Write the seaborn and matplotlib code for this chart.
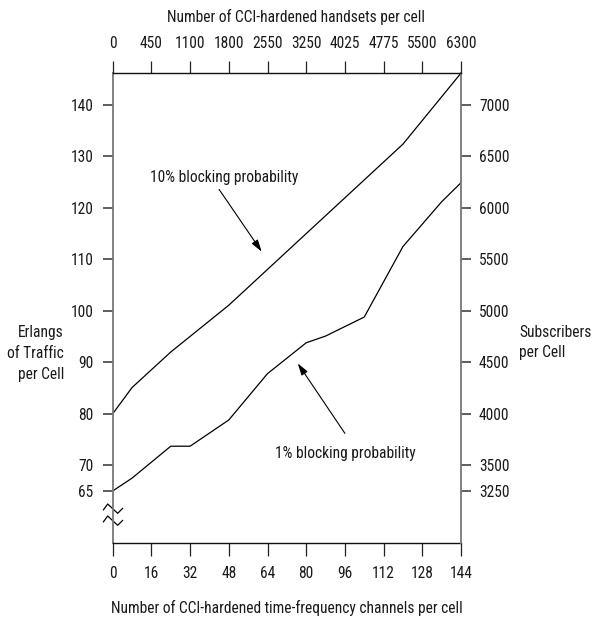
import matplotlib
matplotlib.use("Agg")
import matplotlib.pyplot as plt
from matplotlib import font_manager
from matplotlib.font_manager import FontProperties
from matplotlib.textpath import TextPath
import seaborn as sns
import pandas as pd

# ---- data ----
channels_10 = [0, 8, 24, 48, 120, 144]
erlang_10 = [80, 85.1, 92.0, 101.1, 132.4, 146.2]
channels_1 = [0, 8, 24, 32, 48, 64, 80, 88, 104, 120, 136, 144]
erlang_1 = [65, 67.5, 73.7, 73.7, 78.8, 87.8, 93.8, 95.1, 98.8, 112.5, 121.2, 124.9]

bottom_ticks = [0, 16, 32, 48, 64, 80, 96, 112, 128, 144]
top_labels = ["0", "450", "1100", "1800", "2550", "3250", "4025", "4775", "5500", "6300"]
left_ticks = [65, 70, 80, 90, 100, 110, 120, 130, 140]
right_ticks = [3250, 3500, 4000, 4500, 5000, 5500, 6000, 6500, 7000]
subs_per_erlang = 50

sns.set_theme(style="white")

# ---- pick a narrow sans font if one is installed (reference uses a narrow Helvetica) ----
SAMPLE = "Number of CCI-hardened time-frequency channels per cell"
TARGET_W_PX = 350.0
TARGET_RATIO = 350.0 / 11.7   # width of sample / digit height, in the reference
ALLOWED = {"liberation sans", "liberation sans narrow", "arial", "arial narrow", "dejavu sans",
           "dejavu sans condensed", "roboto", "roboto condensed", "open sans", "open sans condensed",
           "noto sans", "noto sans condensed", "lato", "inter"}


def _wnum(w):
    if isinstance(w, (int, float)):
        return w
    return font_manager.weight_dict.get(str(w).lower(), 400)


cands = {}
for f in font_manager.fontManager.ttflist:
    if f.name.lower() not in ALLOWED:
        continue
    if f.style != "normal" or not (350 <= _wnum(f.weight) <= 450):
        continue
    key = (f.name, f.stretch)
    if key not in cands:
        cands[key] = f.fname

best = None
for (name, stretch), fname in list(cands.items())[:30]:
    try:
        fp = FontProperties(fname=fname)
        w = TextPath((0, 0), SAMPLE, size=100, prop=fp).get_extents().width
        h = TextPath((0, 0), "0148", size=100, prop=fp).get_extents().height
    except Exception:
        continue
    if h <= 0 or w <= 0:
        continue
    score = abs(w / h - TARGET_RATIO)
    if "liberation" in name.lower():
        score *= 0.85
    if best is None or score < best[0]:
        best = (score, name, stretch, w)

if best is None:
    fam, stretch, FS = "Liberation Sans", "normal", 9.8
else:
    _, fam, stretch, w100 = best
    FS = TARGET_W_PX * 72.0 / w100

plt.rcParams["font.family"] = [fam, "DejaVu Sans"]
plt.rcParams["font.stretch"] = stretch

df = pd.concat([
    pd.DataFrame({"ch": channels_10, "erl": erlang_10, "curve": "10%"}),
    pd.DataFrame({"ch": channels_1, "erl": erlang_1, "curve": "1%"}),
])

fig = plt.figure(figsize=(5.97, 6.23), dpi=100)
W, H = 597, 623
x0, x1, ytop, ybot = 112.7, 461.0, 73.0, 542.7
ax = fig.add_axes([x0 / W, (H - ybot) / H, (x1 - x0) / W, (ybot - ytop) / H])

sns.lineplot(data=df, x="ch", y="erl", units="curve", estimator=None,
             color="black", linewidth=0.9, sort=False, ax=ax, legend=False)

TXT = "#1a1a1a"
ymin, ymax = 54.95, 146.22
ax.set_xlim(0, 144)
ax.set_ylim(ymin, ymax)
ax.set_xlabel("")
ax.set_ylabel("")
ax.set_xticks(bottom_ticks)
ax.set_xticklabels([str(t) for t in bottom_ticks], fontsize=FS, color=TXT)
ax.set_yticks(left_ticks)
ax.set_yticklabels([str(t) for t in left_ticks], fontsize=FS, color=TXT)
ax.tick_params(axis="x", direction="out", length=9, width=0.9, pad=8, color="#222222", bottom=True)
ax.tick_params(axis="y", direction="out", length=7, width=1.1, pad=7, color="#333333", left=True)

axr = ax.twinx()
axr.set_ylim(ymin * subs_per_erlang, ymax * subs_per_erlang)
axr.set_yticks(right_ticks)
axr.set_yticklabels([str(t) for t in right_ticks], fontsize=FS, color=TXT)
axr.tick_params(axis="y", direction="out", length=7, width=1.1, pad=6, color="#333333", right=True)
axr.grid(False)

axt = ax.twiny()
axt.set_xlim(0, 144)
axt.set_xticks(bottom_ticks)
axt.set_xticklabels(top_labels, fontsize=FS, color=TXT)
axt.tick_params(axis="x", direction="out", length=9, width=0.9, pad=7, color="#222222", top=True)
axt.grid(False)
ax.grid(False)

for a in (ax, axr, axt):
    for s in a.spines.values():
        s.set_visible(False)
ax.spines["bottom"].set_visible(True)
ax.spines["bottom"].set_color("#111111")
ax.spines["bottom"].set_linewidth(1.0)
axt.spines["top"].set_visible(True)
axt.spines["top"].set_color("#111111")
axt.spines["top"].set_linewidth(1.0)
ax.spines["left"].set_visible(True)
ax.spines["left"].set_color("#777777")
ax.spines["left"].set_linewidth(1.3)
axr.spines["right"].set_visible(True)
axr.spines["right"].set_color("#777777")
axr.spines["right"].set_linewidth(1.3)


# axis break marks
def frac(px, py):
    return (px - x0) / (x1 - x0), (ybot - py) / (ybot - ytop)


for dy in (0, 12):
    pts = [frac(103.3, 510 + dy), frac(107.7, 504 + dy), frac(117.7, 513.3 + dy), frac(122.7, 508.3 + dy)]
    ax.plot([p[0] for p in pts], [p[1] for p in pts], transform=ax.transAxes,
            color="black", linewidth=0.9, clip_on=False)

# annotations
ax.text(46.0, 126.0, "10% blocking probability", ha="center", va="center", fontsize=FS, color=TXT)
ax.annotate("", xy=(61.6, 111.5), xytext=(44.0, 123.6),
            arrowprops=dict(arrowstyle="-|>,head_length=0.6,head_width=0.18", color="black", lw=0.8,
                            shrinkA=0, shrinkB=0))
ax.text(96.0, 72.2, "1% blocking probability", ha="center", va="center", fontsize=FS, color=TXT)
ax.annotate("", xy=(76.5, 89.8), xytext=(96.0, 76.2),
            arrowprops=dict(arrowstyle="-|>,head_length=0.6,head_width=0.18", color="black", lw=0.8,
                            shrinkA=0, shrinkB=0))

# axis titles
fig.text(296 / W, 1 - 17 / H, "Number of CCI-hardened handsets per cell", ha="center", va="center",
         fontsize=FS, color=TXT)
fig.text(287 / W, 1 - 608 / H, "Number of CCI-hardened time-frequency channels per cell", ha="center",
         va="center", fontsize=FS, color=TXT)
fig.text(64 / W, 1 - 353 / H, "Erlangs\nof Traffic\nper Cell", ha="right", va="center",
         multialignment="right", fontsize=FS, color=TXT, linespacing=1.5)
fig.text(519 / W, 1 - 342.5 / H, "Subscribers\nper Cell", ha="left", va="center",
         multialignment="left", fontsize=FS, color=TXT, linespacing=1.45)

fig.savefig("out.png", dpi=100)
